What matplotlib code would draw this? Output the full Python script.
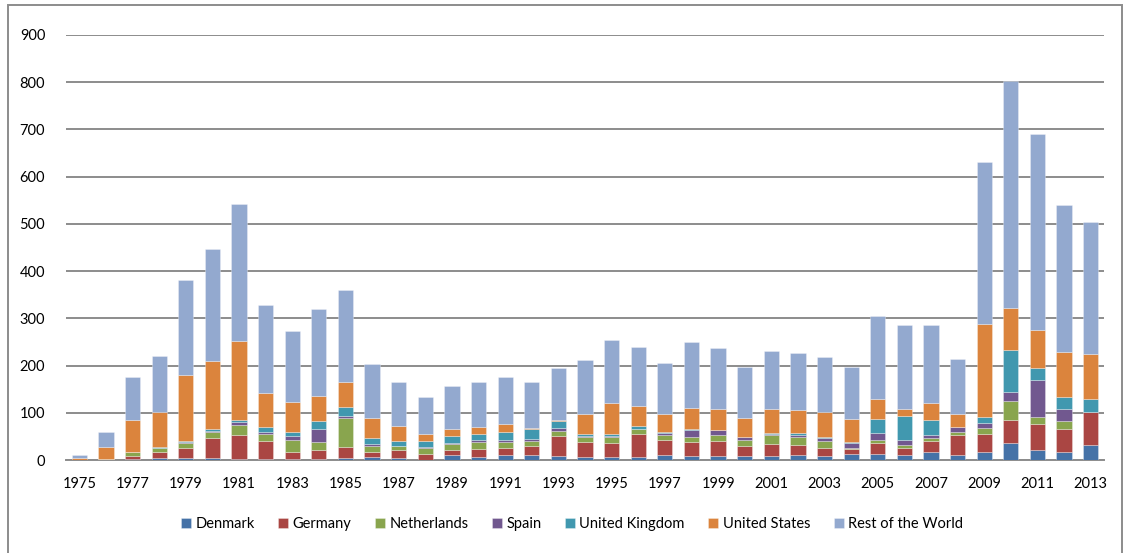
import matplotlib
matplotlib.use("Agg")
import matplotlib.pyplot as plt
from matplotlib.patches import Rectangle
import numpy as np

years = list(range(1975, 2014))
denmark = [0, 0, 2, 4, 4, 4, 3, 3, 2, 3, 4, 6, 5, 1, 11, 6, 11, 10, 8, 7, 7, 6, 11, 8, 8, 8, 8, 11, 8, 13, 13, 11, 16, 11, 17, 35, 21, 16, 32]
germany = [1, 0.5, 7, 12, 21, 43, 51, 38, 14, 18, 23, 10, 16, 12, 10, 18, 14, 20, 43, 31, 30, 49, 31, 30, 32, 21, 26, 21, 17, 11, 24, 14, 24, 41, 38, 50, 56, 50, 69]
netherlands = [0, 2, 7, 10, 12, 12, 20, 14, 26, 17, 63, 14, 8, 12, 13, 15, 14, 11, 11, 10, 11, 10, 11, 10, 14, 14, 19, 16, 15, 1, 6, 7, 7, 8, 13, 40, 14, 17, 0]
spain = [0, 0, 0, 0, 1, 2, 6, 5, 8, 28, 3, 3, 1, 2, 3, 3, 3, 3, 5, 3, 2, 1, 4, 16, 9, 5, 2, 6, 6, 11, 14, 11, 7, 9, 10, 20, 78, 26, 0]
uk = [0, 0, 1, 1, 2, 4, 4, 10, 10, 17, 19, 13, 11, 13, 13, 13, 17, 21, 16, 5, 6, 5, 2, 2, 1, 1, 3, 3, 3, 3, 29, 50, 31, 1, 14, 88, 26, 24, 29]
us = [3, 24, 67, 74, 141, 145, 169, 72, 63, 52, 54, 44, 31, 15, 15, 14, 17, 2, 1, 41, 65, 43, 38, 45, 45, 41, 49, 48, 53, 48, 43, 16, 35, 28, 197, 89, 80, 96, 94]
rest = [7, 32, 92, 120, 201, 236, 289, 187, 151, 185, 195, 114, 94, 78, 92, 97, 100, 98, 110, 114, 133, 125, 109, 138, 129, 107, 124, 121, 117, 110, 176, 177, 165, 116, 343, 481, 415, 311, 281]

series_names = ["Denmark", "Germany", "Netherlands", "Spain", "United Kingdom", "United States", "Rest of the World"]
series = [denmark, germany, netherlands, spain, uk, us, rest]
colors = ["#4572A7", "#AA4643", "#89A54E", "#71588F", "#4198AF", "#DB843D", "#93A9CF"]
yticks = list(range(0, 1000, 100))

plt.rcParams['font.family'] = ['Lato', 'DejaVu Sans']

fig = plt.figure(figsize=(11.28, 5.53), dpi=100)
ax = fig.add_axes([66/1128, 1-460/553, (1104-66)/1128, (460-35)/553])

x = np.arange(len(years))
bottom = np.zeros(len(years))
for name, vals, c in zip(series_names, series, colors):
    v = np.array(vals, dtype=float)
    ax.bar(x, v, 0.57, bottom=bottom, color=c, label=name,
           edgecolor=(1, 1, 1, 0.35), linewidth=0.6, zorder=3)
    bottom += v

ax.set_xlim(-0.5, len(years) - 0.5)
ax.set_ylim(0, 900)
ax.set_yticks(yticks)
ax.set_yticklabels([str(t) for t in yticks], fontsize=10.5)
ax.yaxis.grid(True, color="#8c8c8c", linewidth=1.4, zorder=0)
ax.set_axisbelow(True)
ax.set_xticks(x[::2])
ax.set_xticklabels([str(y) for y in years[::2]], fontsize=10.5)
ax.tick_params(axis='y', length=0, pad=15)
ax.tick_params(axis='x', length=0, pad=12)
for s in ['top', 'right', 'left']:
    ax.spines[s].set_visible(False)
ax.spines['bottom'].set_color("#8c8c8c")
ax.spines['bottom'].set_linewidth(1.4)

leg = fig.legend(loc='center', bbox_to_anchor=(572/1128, 1-524/553), ncol=7, frameon=False,
                 fontsize=10.5, handlelength=0.7, handleheight=0.7, handletextpad=0.3,
                 columnspacing=1.6)

fig.patches.append(Rectangle((8/1128, -0.01), (1122-8)/1128, 1-5/553+0.01, transform=fig.transFigure,
                             fill=False, edgecolor="#8c8c8c", linewidth=1.4))

fig.savefig("out.png", dpi=100)
